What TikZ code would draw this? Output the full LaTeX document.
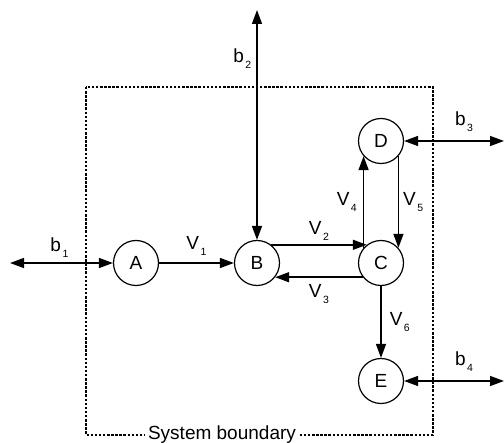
\documentclass[tikz,border=0pt]{standalone}
\usepackage{fontspec}
\setmainfont{Liberation Sans}
\usetikzlibrary{arrows.meta}
\newcommand{\flowlbl}[2]{#1\kern1.5pt\raisebox{-6pt}{\fontsize{10.5}{12}\selectfont #2}}

\begin{document}
\begin{tikzpicture}[x=1pt,y=-1pt,>={Triangle[length=14pt,width=10pt]},line width=1.5pt,font=\fontsize{19}{22}\selectfont]
        \useasboundingbox (0,0) rectangle (504,443);
        \tikzset{tank/.style={draw,circle,line width=1.2pt,minimum size=45pt,inner sep=0pt,font=\fontsize{19}{22}\selectfont},
                 flow/.style={inner sep=1pt}}
        % the system boundary
        \draw[line width=1.2pt,dash pattern=on 2.5pt off 1.6pt] (86,87) rectangle (433,435);
        \node[fill=white,inner sep=3pt] (sysb) at (222,435) {System boundary};
        \node[tank] (A) at (136,263) {A};
        \node[tank] (B) at (257,263) {B};
        \node[tank] (C) at (381,263) {C};
        \node[tank] (D) at (381,141) {D};
        \node[tank] (E) at (381,381) {E};
        \coordinate (in1) at (10,263);
        \coordinate (in2) at (257,10);
        \coordinate (out3) at (504,141);
        \coordinate (out4) at (504,381);
        % flows across the boundary
        \draw[<->] (in1) -- (A) node[flow,pos=0.48,above=4pt] (lb1) {\flowlbl{b}{1}};
        \draw[<->] (in2) -- (B) node[flow,pos=0.21,left=4pt] (lb2) {\flowlbl{b}{2}};
        \draw[<->] (D) -- (out3) node[flow,pos=0.6,above=8pt] (lb3) {\flowlbl{b}{3}};
        \draw[<->] (E) -- (out4) node[flow,pos=0.6,above=8pt] (lb4) {\flowlbl{b}{4}};
        % internal flows
        \draw[->] (A) -- (B) node[flow,midway,above=6pt] (lv1) {\flowlbl{V}{1}};
        \draw[->] (B.52) -- (C.128) node[flow,midway,above=3pt] (lv2) {\flowlbl{V}{2}};
        \draw[->] (C.218) -- (B.-38) node[flow,midway,below=5pt] (lv3) {\flowlbl{V}{3}};
        \draw[->] (C.139) -- (D.221) node[flow,midway,left=5pt] (lv4) {\flowlbl{V}{4}};
        \draw[->] (D.-41) -- (C.41) node[flow,midway,right=3pt] (lv5) {\flowlbl{V}{5}};
        \draw[->] (C) -- (E) node[flow,midway,right=7pt] (lv6) {\flowlbl{V}{6}};
    \end{tikzpicture}
\end{document}
